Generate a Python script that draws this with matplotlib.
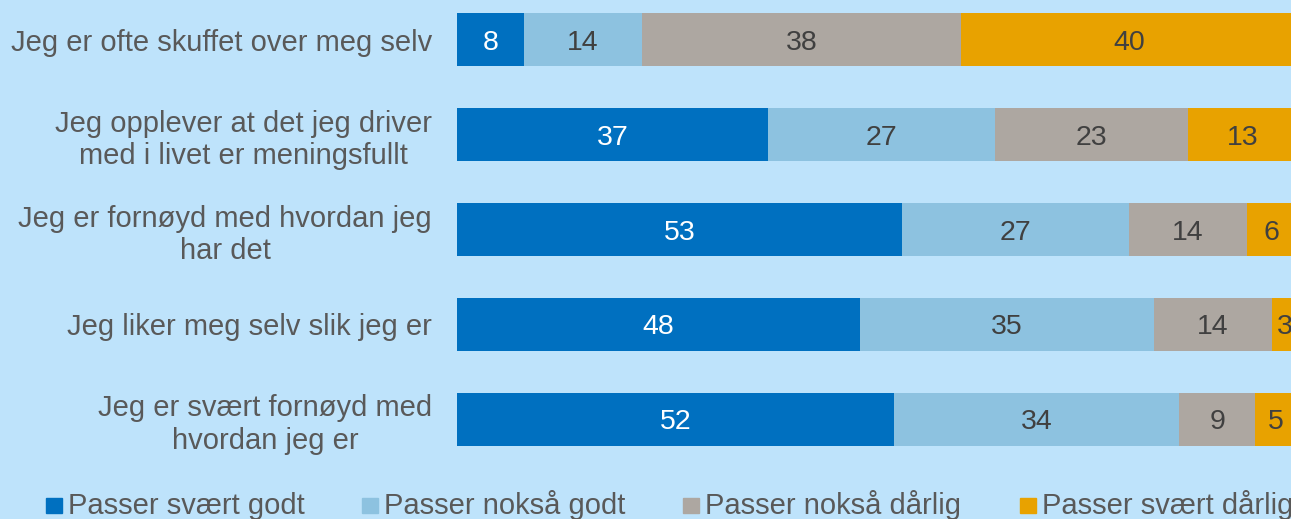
import matplotlib
matplotlib.use("Agg")
import matplotlib.pyplot as plt
from matplotlib.patches import Rectangle

plt.rcParams["font.family"] = ["Liberation Sans", "DejaVu Sans"]

categories = [
    "Jeg er ofte skuffet over meg selv",
    "Jeg opplever at det jeg driver\nmed i livet er meningsfullt",
    "Jeg er fornøyd med hvordan jeg\nhar det",
    "Jeg liker meg selv slik jeg er",
    "Jeg er svært fornøyd med\nhvordan jeg er",
]
series_names = ["Passer svært godt", "Passer nokså godt", "Passer nokså dårlig", "Passer svært dårlig"]
svart_godt = [8, 37, 53, 48, 52]
noksa_godt = [14, 27, 27, 35, 34]
noksa_darlig = [38, 23, 14, 14, 9]
svart_darlig = [40, 13, 6, 3, 5]

colors = ["#0070C0", "#8DC2E0", "#ADA7A1", "#E8A200"]
text_colors = ["white", "#404040", "#404040", "#404040"]
label_color = "#595959"
bg = "#BEE3FB"

fig = plt.figure(figsize=(12.91, 5.19), dpi=100, facecolor=bg)
ax = fig.add_axes([457 / 1291, 0.1002, 840 / 1291, 0.9152])
ax.set_facecolor(bg)

series = [svart_godt, noksa_godt, noksa_darlig, svart_darlig]
y = list(range(len(categories)))
left = [0] * len(categories)
for vals, col, tcol in zip(series, colors, text_colors):
    bars = ax.barh(y, vals, left=left, height=0.56, color=col, edgecolor="none")
    for b, v, l in zip(bars, vals, left):
        ax.text(l + v / 2, b.get_y() + b.get_height() / 2, str(v),
                ha="center", va="center_baseline", color=tcol, fontsize=20.5)
    left = [a + b for a, b in zip(left, vals)]

ax.set_xlim(0, 100)
ax.set_ylim(len(categories) - 0.5, -0.5)
ax.set_yticks(y)
ax.set_yticklabels(categories, fontsize=21, color=label_color, multialignment="center")
ax.tick_params(axis="y", length=0, pad=18)
ax.set_xticks([])
for s in ax.spines.values():
    s.set_visible(False)

# legend row along the bottom
leg_x = [46, 362, 683, 1020]
for xp, name, col in zip(leg_x, series_names, colors):
    fig.patches.append(Rectangle((xp / 1291, 1 - 513 / 519), 16 / 1291, 15 / 519,
                                 transform=fig.transFigure, color=col))
    fig.text((xp + 22) / 1291, 1 - 514 / 519, name, fontsize=21, color=label_color,
             ha="left", va="baseline")

fig.savefig("out.png", dpi=100, facecolor=bg)
